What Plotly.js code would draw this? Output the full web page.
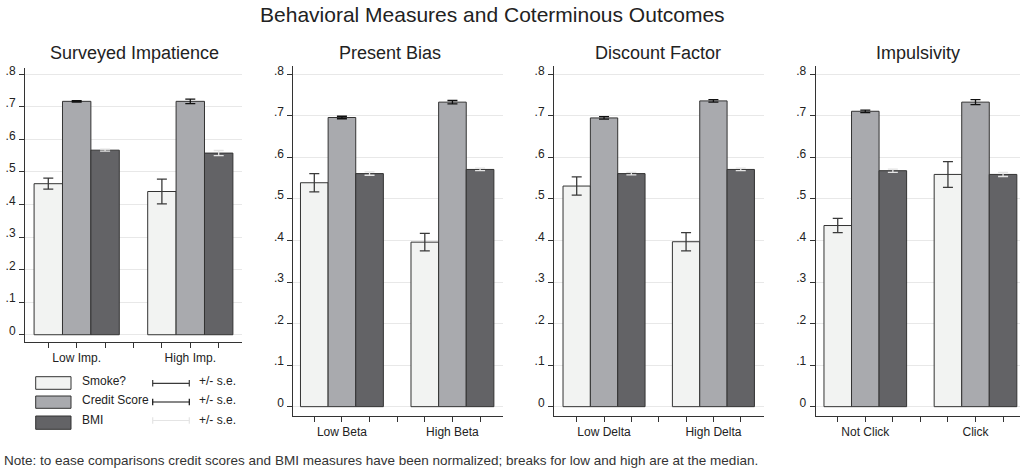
<!DOCTYPE html>
<html>
<head>
<meta charset="utf-8">
<script src="https://cdn.plot.ly/plotly-3.0.1.min.js"></script>
<style>html,body{margin:0;padding:0;background:#fff;}#chart{width:1020px;height:472px;}</style>
</head>
<body>
<div id="chart"></div>
<script>
// ---------- data ----------
var mainTitle = 'Behavioral Measures and Coterminous Outcomes';
var panelTitles = ['Surveyed Impatience', 'Present Bias', 'Discount Factor', 'Impulsivity'];
var seriesNames = ['Smoke?', 'Credit Score', 'BMI'];
var groupLabels = [
  ['Low Imp.', 'High Imp.'],
  ['Low Beta', 'High Beta'],
  ['Low Delta', 'High Delta'],
  ['Not Click', 'Click']
];
var smokeMean  = [[0.464, 0.440], [0.539, 0.396], [0.531, 0.397], [0.436, 0.559]];
var smokeSE    = [[0.017, 0.038], [0.022, 0.021], [0.022, 0.022], [0.017, 0.031]];
var creditMean = [[0.717, 0.717], [0.696, 0.733], [0.695, 0.736], [0.711, 0.733]];
var creditSE   = [[0.002, 0.007], [0.003, 0.004], [0.003, 0.003], [0.003, 0.006]];
var bmiMean    = [[0.567, 0.558], [0.561, 0.571], [0.561, 0.571], [0.568, 0.559]];
var bmiSE      = [[0.003, 0.008], [0.004, 0.003], [0.003, 0.003], [0.004, 0.005]];
var yTickVals   = [0, 0.1, 0.2, 0.3, 0.4, 0.5, 0.6, 0.7, 0.8];
var yTickLabels = ['0', '.1', '.2', '.3', '.4', '.5', '.6', '.7', '.8'];
var seLabel = '+/- s.e.';
var noteText = 'Note: to ease comparisons credit scores and BMI measures have been normalized; breaks for low and high are at the median.';

// ---------- styles ----------
var W = 1020, H = 472;
var FONT = 'Liberation Sans, Arial, sans-serif';
var fillColors = ['#f2f3f2', '#a9aaae', '#636366'];
var errColors = ['#3a3a3a', '#111111', '#e4e4e4'];
var means = [smokeMean, creditMean, bmiMean];
var ses = [smokeSE, creditSE, bmiSE];

// panel geometry in pixels
var panels = [
  {x0: 25,    x1: 241.7, y0: 67.8, y1: 341.9, xr: [0.18, 7.81], tx: 134.5},
  {x0: 293.3, x1: 503,   y0: 66,   y1: 415.8, xr: [0.24, 7.83], tx: 390.3},
  {x0: 554,   x1: 764,   y0: 66,   y1: 415.8, xr: [0.17, 7.85], tx: 658.3},
  {x0: 815.7, x1: 1020,  y0: 66,   y1: 415.8, xr: [0.2, 7.615], tx: 917.7}
];
function px(x) { return x / W; }
function py(y) { return 1 - y / H; }

var traces = [];
var layout = {
  width: W, height: H,
  margin: {l: 0, r: 0, t: 0, b: 0},
  paper_bgcolor: '#ffffff', plot_bgcolor: '#ffffff',
  font: {family: FONT, size: 12, color: '#222'},
  showlegend: false,
  barmode: 'overlay',
  title: {text: mainTitle, font: {family: FONT, size: 21, color: '#222'},
          x: px(492.3), xanchor: 'center', y: py(15), yanchor: 'middle'},
  annotations: [], shapes: []
};

panels.forEach(function (p, pi) {
  var sfx = pi === 0 ? '' : String(pi + 1);
  var xaName = 'xaxis' + sfx, yaName = 'yaxis' + sfx;
  var tickVals = [], tickText = [];
  for (var k = 1; k <= 7; k++) { tickVals.push(k); tickText.push(''); }
  groupLabels[pi].forEach(function (lab, gi) { tickText[gi * 4 + 1] = lab; });

  layout[xaName] = {
    domain: [px(p.x0), px(p.x1)], range: p.xr, anchor: 'y' + sfx,
    showgrid: false, zeroline: false, showline: true, linecolor: '#333', linewidth: 1,
    ticks: 'outside', ticklen: 5, tickcolor: '#333', tickwidth: 1,
    tickvals: tickVals, ticktext: tickText,
    tickfont: {family: FONT, size: 12, color: '#222'}, fixedrange: true
  };
  layout[yaName] = {
    domain: [py(p.y1), py(p.y0)], range: [-0.022, 0.82], anchor: 'x' + sfx,
    showgrid: true, gridcolor: '#e8e8e8', gridwidth: 1, zeroline: false,
    showline: true, linecolor: '#333', linewidth: 1,
    ticks: 'outside', ticklen: 5, tickcolor: '#333', tickwidth: 1,
    tickvals: yTickVals, ticktext: yTickLabels, ticklabelshift: -4, ticklabelstandoff: 1,
    tickfont: {family: FONT, size: 12, color: '#222'}, fixedrange: true
  };

  seriesNames.forEach(function (name, si) {
    traces.push({
      type: 'bar', name: name,
      x: groupLabels[pi].map(function (g, gi) { return gi * 4 + si + 1; }),
      y: means[si][pi],
      width: 1,
      marker: {color: fillColors[si], line: {color: '#333', width: 1}},
      error_y: {type: 'data', array: ses[si][pi], visible: true,
                color: errColors[si], thickness: 1.3, width: 5},
      xaxis: 'x' + sfx, yaxis: 'y' + sfx, hoverinfo: 'skip'
    });
  });

  layout.annotations.push({
    text: panelTitles[pi], xref: 'paper', yref: 'paper',
    x: px(p.tx), y: py(53), xanchor: 'center', yanchor: 'middle', showarrow: false,
    font: {family: FONT, size: 18, color: '#222'}
  });
});

// ---------- legend (panel 1) ----------
var rowText = [380.5, 400, 419.5];
var rowRect = [[376.7, 389.3], [396, 408.3], [416, 429.3]];
var rowErr = [383.3, 402, 420.5];
seriesNames.forEach(function (name, si) {
  layout.shapes.push({type: 'rect', xref: 'paper', yref: 'paper',
    x0: px(35.7), x1: px(71), y0: py(rowRect[si][1]), y1: py(rowRect[si][0]),
    fillcolor: fillColors[si], line: {color: '#333', width: 1}});
  layout.annotations.push({text: name, xref: 'paper', yref: 'paper',
    x: px(79.5), y: py(rowText[si]), xanchor: 'left', yanchor: 'middle', showarrow: false,
    font: {family: FONT, size: 12, color: '#222'}});
  var ey = py(rowErr[si]), c = errColors[si];
  layout.shapes.push({type: 'line', xref: 'paper', yref: 'paper',
    x0: px(152.7), x1: px(189.3), y0: ey, y1: ey, line: {color: c, width: 1.2}});
  [152.7, 189.3].forEach(function (xx) {
    layout.shapes.push({type: 'line', xref: 'paper', yref: 'paper',
      x0: px(xx), x1: px(xx), y0: py(rowErr[si] - 3.3), y1: py(rowErr[si] + 3.3),
      line: {color: c, width: 1.2}});
  });
  layout.annotations.push({text: seLabel, xref: 'paper', yref: 'paper',
    x: px(196.5), y: py(rowText[si]), xanchor: 'left', yanchor: 'middle', showarrow: false,
    font: {family: FONT, size: 12, color: '#222'}});
});

layout.annotations.push({text: noteText, xref: 'paper', yref: 'paper',
  x: px(2), y: py(460.7), xanchor: 'left', yanchor: 'middle', showarrow: false,
  font: {family: FONT, size: 13.5, color: '#333'}});

Plotly.newPlot('chart', traces, layout, {displayModeBar: false, staticPlot: true});
</script>
</body>
</html>
